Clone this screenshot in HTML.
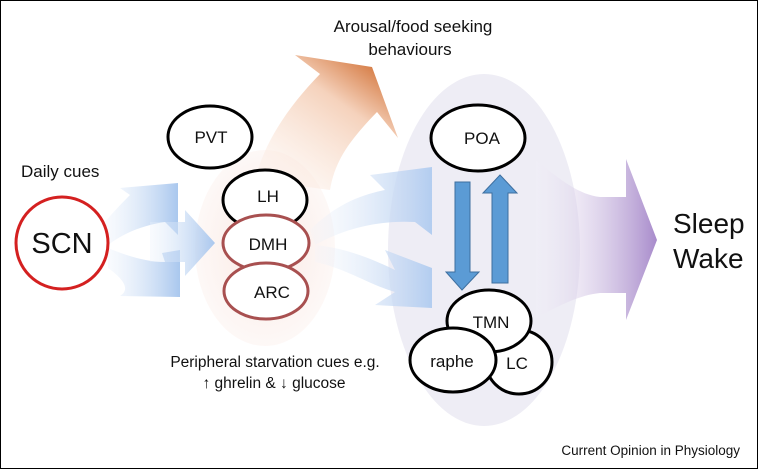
<!DOCTYPE html>
<html><head><style>
html,body{margin:0;padding:0;background:#fff}
svg{display:block}
text{font-family:"Liberation Sans",sans-serif;fill:#111}
</style></head><body>
<svg width="758" height="469" viewBox="0 0 758 469" xmlns="http://www.w3.org/2000/svg">
<defs>
<linearGradient id="bl" x1="0" y1="0" x2="1" y2="0">
<stop offset="0" stop-color="#eaf1fb" stop-opacity="0.3"/><stop offset="1" stop-color="#a9c7ee"/></linearGradient>
<linearGradient id="bl2" x1="0" y1="0" x2="1" y2="0">
<stop offset="0" stop-color="#eef3fb" stop-opacity="0.2"/><stop offset="1" stop-color="#b3cdf0"/></linearGradient>
<linearGradient id="pu" x1="0" y1="0" x2="1" y2="0">
<stop offset="0" stop-color="#f3f0f8" stop-opacity="0.2"/><stop offset="1" stop-color="#a88bcb"/></linearGradient>
<linearGradient id="or" x1="0" y1="1" x2="0.75" y2="0">
<stop offset="0" stop-color="#fdf1ea" stop-opacity="0.2"/><stop offset="0.7" stop-color="#f5d2bc"/><stop offset="1" stop-color="#d57a42"/></linearGradient>
<radialGradient id="pk" cx="0.5" cy="0.5" r="0.5">
<stop offset="0" stop-color="#f9e6e0"/><stop offset="1" stop-color="#fbeeea" stop-opacity="0.4"/></radialGradient>
</defs>
<rect x="0.5" y="0.5" width="757" height="468" fill="#fff" stroke="#000"/>
<ellipse cx="484" cy="250" rx="96" ry="176" fill="#eeedf5"/>
<ellipse cx="265" cy="248" rx="70" ry="98" fill="url(#pk)"/>
<path d="M255 180 C265 140 290 105 320 74 L295 55 L372 67 L398 138 L377 112 C350 140 335 160 330 190 Z" fill="url(#or)"/>
<path d="M105 222 C115 210 125 200 130 195 L120 188 L178 183 L178 235 L165 222 C145 225 125 232 108 245 Z" fill="url(#bl)"/>
<path d="M108 248 C125 255 145 262 165 262 L162 253 L180 250 L180 297 L120 296 C130 290 125 280 108 268 Z" fill="url(#bl)"/>
<path d="M150 222 L185 222 L185 210 L215 243 L185 276 L185 262 L150 262 Z" fill="url(#bl)"/>
<path d="M310 230 C335 205 360 195 385 190 L370 175 L432 167 L432 235 L415 222 C380 220 345 228 315 245 Z" fill="url(#bl2)"/>
<path d="M315 245 C345 248 370 258 395 270 L385 250 L432 268 L432 308 L375 305 L395 292 C370 285 345 268 315 262 Z" fill="url(#bl2)"/>
<path d="M536 160 C560 180 580 195 600 197 L626 197 L626 159 L657 240 L626 320 L626 293 L600 293 C580 295 560 305 536 318 Z" fill="url(#pu)"/>
<g fill="#fff" stroke-width="3">
<ellipse cx="210" cy="137" rx="42" ry="31" stroke="#000"/>
<ellipse cx="265" cy="200" rx="42" ry="30" stroke="#000"/>
<ellipse cx="266" cy="243" rx="43" ry="28" stroke="#a85050"/>
<ellipse cx="266" cy="291" rx="42" ry="28" stroke="#a85050"/>
<circle cx="62" cy="243" r="46" stroke="#d42020"/>
<ellipse cx="478" cy="138" rx="47" ry="33" stroke="#000"/>
<ellipse cx="519" cy="362" rx="33" ry="32" stroke="#000"/>
<ellipse cx="489" cy="321" rx="42" ry="31" stroke="#000"/>
<ellipse cx="453" cy="360" rx="43" ry="32" stroke="#000"/>
</g>
<path d="M455 182 L470 182 L470 272 L479 272 L462 290 L446 272 L455 272 Z" fill="#5b9bd5" stroke="#3e6f9f" stroke-width="1"/>
<path d="M492 283 L508 283 L508 193 L517 193 L500 175 L483 193 L492 193 Z" fill="#5b9bd5" stroke="#3e6f9f" stroke-width="1"/>
<text x="211" y="143" font-size="17" text-anchor="middle">PVT</text>
<text x="268" y="202" font-size="17" text-anchor="middle">LH</text>
<text x="268" y="250" font-size="17" text-anchor="middle">DMH</text>
<text x="272" y="298" font-size="17" text-anchor="middle">ARC</text>
<text x="62" y="253" font-size="29" text-anchor="middle">SCN</text>
<text x="482" y="144" font-size="17" text-anchor="middle">POA</text>
<text x="491" y="328" font-size="17" text-anchor="middle">TMN</text>
<text x="452" y="367" font-size="17" text-anchor="middle">raphe</text>
<text x="517" y="369" font-size="17" text-anchor="middle">LC</text>
<text x="21" y="177" font-size="17">Daily cues</text>
<text x="413" y="32" font-size="17" text-anchor="middle">Arousal/food seeking</text>
<text x="410" y="55" font-size="17" text-anchor="middle">behaviours</text>
<text x="275" y="367" font-size="15.5" text-anchor="middle">Peripheral starvation cues e.g.</text>
<text x="274" y="388" font-size="15.5" text-anchor="middle">↑ ghrelin &amp; ↓ glucose</text>
<text x="673" y="233" font-size="28">Sleep</text>
<text x="673" y="268" font-size="28">Wake</text>
<text x="740" y="455" font-size="13.5" text-anchor="end">Current Opinion in Physiology</text>
</svg>
</body></html>
